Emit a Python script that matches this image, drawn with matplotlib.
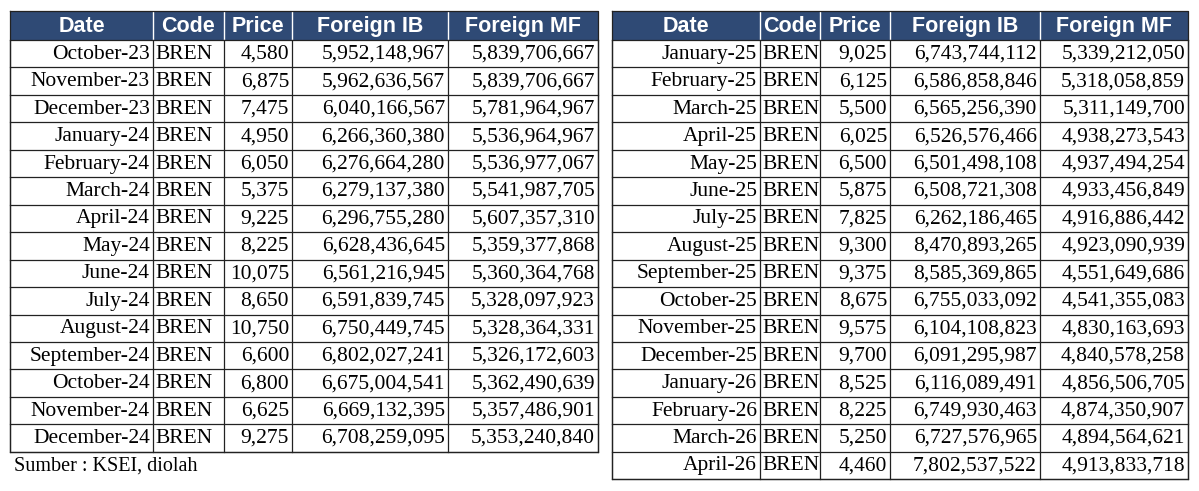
import matplotlib
matplotlib.use("Agg")
import matplotlib.pyplot as plt
from matplotlib.patches import Rectangle

headers = ["Date", "Code", "Price", "Foreign IB", "Foreign MF"]
left_dates = ["October-23","November-23","December-23","January-24","February-24","March-24",
              "April-24","May-24","June-24","July-24","August-24","September-24","October-24",
              "November-24","December-24"]
left_price = [4580,6875,7475,4950,6050,5375,9225,8225,10075,8650,10750,6600,6800,6625,9275]
left_ib = [5952148967,5962636567,6040166567,6266360380,6276664280,6279137380,6296755280,
           6628436645,6561216945,6591839745,6750449745,6802027241,6675004541,6669132395,6708259095]
left_mf = [5839706667,5839706667,5781964967,5536964967,5536977067,5541987705,5607357310,
           5359377868,5360364768,5328097923,5328364331,5326172603,5362490639,5357486901,5353240840]
right_dates = ["January-25","February-25","March-25","April-25","May-25","June-25","July-25",
               "August-25","September-25","October-25","November-25","December-25","January-26",
               "February-26","March-26","April-26"]
right_price = [9025,6125,5500,6025,6500,5875,7825,9300,9375,8675,9575,9700,8525,8225,5250,4460]
right_ib = [6743744112,6586858846,6565256390,6526576466,6501498108,6508721308,6262186465,
            8470893265,8585369865,6755033092,6104108823,6091295987,6116089491,6749930463,
            6727576965,7802537522]
right_mf = [5339212050,5318058859,5311149700,4938273543,4937494254,4933456849,4916886442,
            4923090939,4551649686,4541355083,4830163693,4840578258,4856506705,4874350907,
            4894564621,4913833718]
code = "BREN"
source = "Sumber : KSEI, diolah"

W, H = 1199, 491
fig = plt.figure(figsize=(W/100, H/100), dpi=100)
ax = fig.add_axes([0, 0, 1, 1])
ax.set_xlim(0, W); ax.set_ylim(H, 0); ax.axis("off")

HDR = "#2f4a75"
top, hh, rh = 11, 29, 27.45
FS = 15.5

def draw(cols, dates, price, ib, mf):
    x0, x1 = cols[0], cols[-1]
    n = len(dates)
    ax.add_patch(Rectangle((x0, top), x1-x0, hh, color=HDR, lw=0))
    for i, h in enumerate(headers):
        ax.text((cols[i]+cols[i+1])/2, top+hh/2+1, h, ha="center", va="center",
                color="white", fontsize=15.5, fontweight="bold", family="Liberation Sans")
    for c in cols[1:-1]:
        ax.plot([c, c], [top, top+hh], color="white", lw=1)
    bottom = top+hh+n*rh
    for c in cols:
        ax.plot([c, c], [top+hh, bottom], color="#222222", lw=0.9)
    for r in range(n+1):
        y = top+hh+r*rh
        ax.plot([x0, x1], [y, y], color="#222222", lw=0.9)
    ax.plot([x0, x1, x1, x0, x0], [top, top, bottom, bottom, top], color="#222222", lw=0.9)
    for r in range(n):
        yc = top+hh+(r+0.5)*rh+0.5
        vals = [dates[r], code, f"{price[r]:,}", f"{ib[r]:,}", f"{mf[r]:,}"]
        for i, v in enumerate(vals):
            if i == 1:
                ax.text(cols[1]+2, yc, v, ha="left", va="center", fontsize=FS, family="Liberation Serif")
            else:
                ax.text(cols[i+1]-3, yc, v, ha="right", va="center", fontsize=FS, family="Liberation Serif")

draw([10, 153, 224, 292, 448, 598], left_dates, left_price, left_ib, left_mf)
draw([612, 760, 820, 890, 1040, 1188], right_dates, right_price, right_ib, right_mf)
ax.text(14, 466, source, ha="left", va="center", fontsize=14.5, family="Liberation Serif")
fig.savefig("out.png", dpi=100)
